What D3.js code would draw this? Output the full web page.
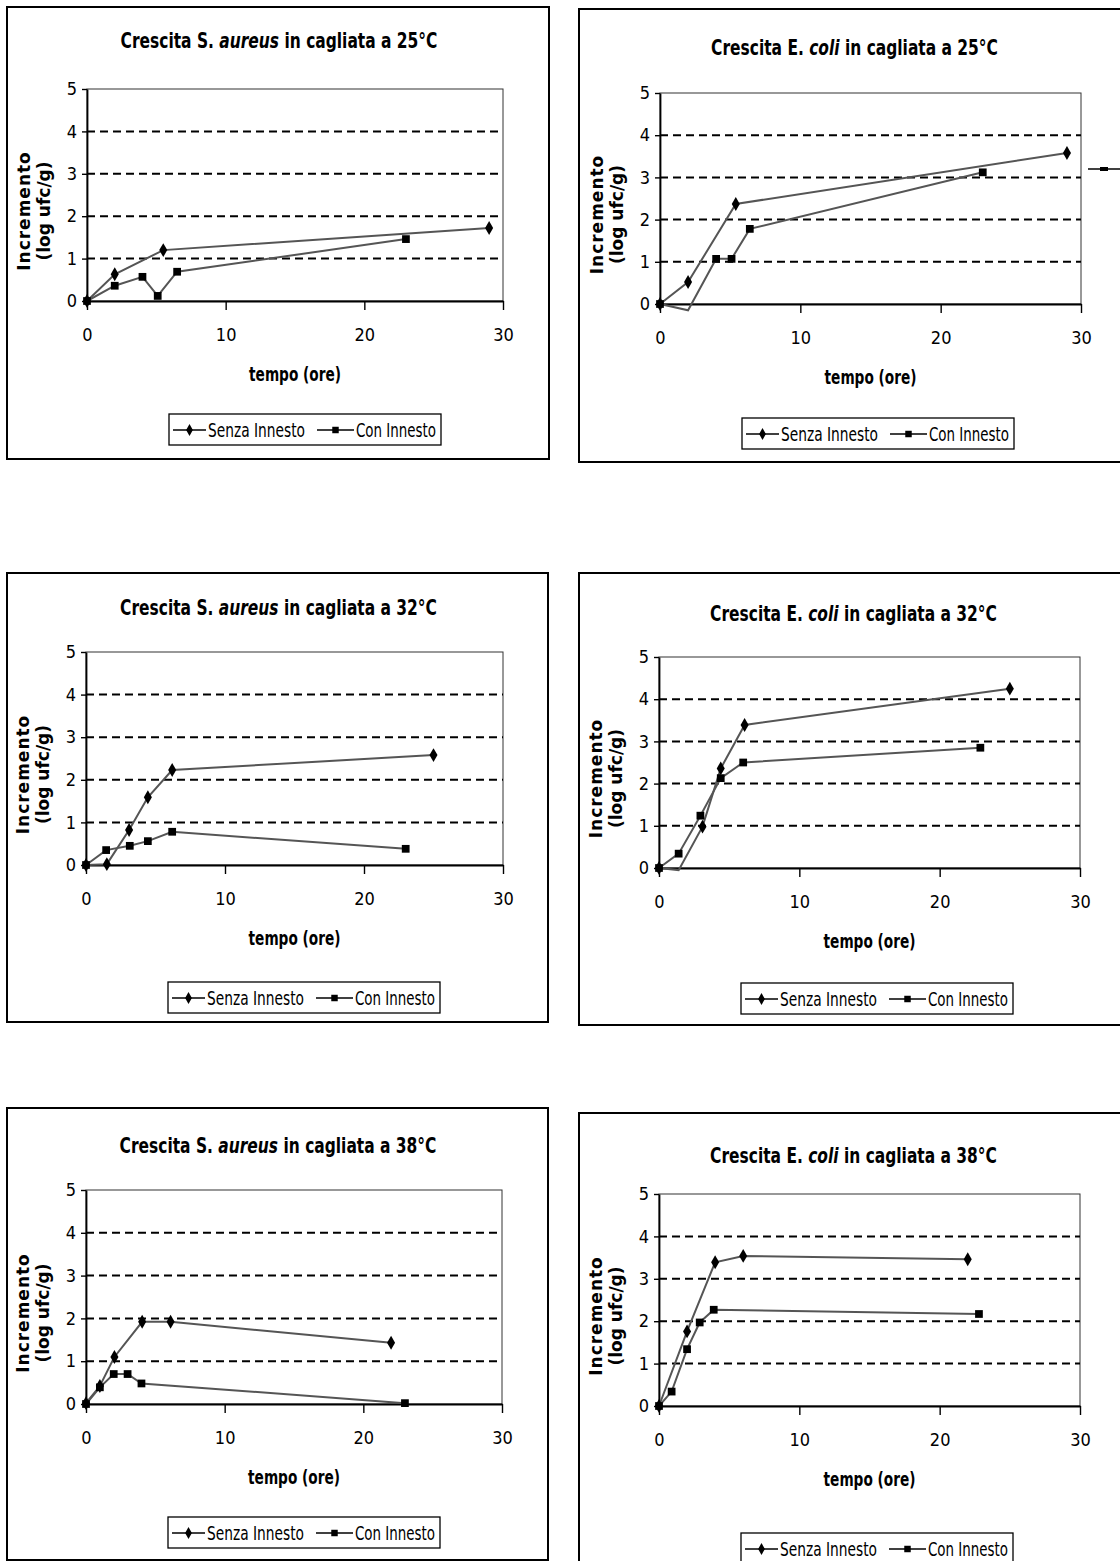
<!DOCTYPE html>
<html>
<head>
<meta charset="utf-8">
<script src="https://cdn.jsdelivr.net/npm/d3@7"></script>
<style>
  body { margin: 0; background: #fff; }
  svg { display: block; }
  .narrow { font-family: "DejaVu Sans Condensed", "Liberation Sans Narrow", sans-serif; }
  .wide { font-family: "DejaVu Sans", "Liberation Sans", sans-serif; }
</style>
</head>
<body>
<svg id="chart" width="1120" height="1561"></svg>
<script>
(function () {
  // assi comuni
  var tempoTicks = [0, 10, 20, 30];
  var incrementoTicks = [0, 1, 2, 3, 4, 5];
  var griglia = [1, 2, 3, 4];
  var serie = ["Senza Innesto", "Con Innesto"];

  // valori: ore e incremento (log ufc/g)
  var aureus25SenzaOre = [0, 2, 5.5, 29];
  var aureus25SenzaLog = [0, 0.63, 1.2, 1.72];
  var aureus25ConOre = [0, 2, 4, 5.1, 6.5, 23];
  var aureus25ConLog = [0, 0.36, 0.57, 0.12, 0.69, 1.46];

  var coli25SenzaOre = [0, 2, 5.4, 29];
  var coli25SenzaLog = [0, 0.52, 2.37, 3.58];
  var coli25ConOre = [0, 2, 4, 5.1, 6.4, 23];
  var coli25ConLog = [0, -0.15, 1.07, 1.07, 1.78, 3.12];

  var aureus32SenzaOre = [0, 1.5, 3.1, 4.45, 6.2, 25];
  var aureus32SenzaLog = [0, 0.02, 0.82, 1.59, 2.23, 2.58];
  var aureus32ConOre = [0, 1.45, 3.15, 4.45, 6.2, 23];
  var aureus32ConLog = [0, 0.35, 0.45, 0.56, 0.78, 0.38];

  var coli32SenzaOre = [0, 1.4, 3.1, 4.4, 6.1, 25];
  var coli32SenzaLog = [0, -0.05, 0.98, 2.36, 3.39, 4.25];
  var coli32ConOre = [0, 1.4, 2.95, 4.4, 6.0, 22.9];
  var coli32ConLog = [0, 0.34, 1.24, 2.13, 2.5, 2.85];

  var aureus38SenzaOre = [0, 1, 2.05, 4.05, 6.1, 22];
  var aureus38SenzaLog = [0.02, 0.42, 1.1, 1.92, 1.92, 1.43];
  var aureus38ConOre = [0, 1, 2, 3, 4, 23];
  var aureus38ConLog = [0, 0.39, 0.7, 0.7, 0.48, 0.02];

  var coli38SenzaOre = [0, 2, 4, 6, 22];
  var coli38SenzaLog = [0, 1.76, 3.39, 3.54, 3.46];
  var coli38ConOre = [0, 0.9, 2, 2.9, 3.9, 22.8];
  var coli38ConLog = [0, 0.34, 1.34, 1.97, 2.27, 2.17];

  var grafici = [
    { specie: "S.", nome: "aureus", temp: "25°C", senza: [aureus25SenzaOre, aureus25SenzaLog], con: [aureus25ConOre, aureus25ConLog] },
    { specie: "E.", nome: "coli", temp: "25°C", senza: [coli25SenzaOre, coli25SenzaLog], con: [coli25ConOre, coli25ConLog] },
    { specie: "S.", nome: "aureus", temp: "32°C", senza: [aureus32SenzaOre, aureus32SenzaLog], con: [aureus32ConOre, aureus32ConLog] },
    { specie: "E.", nome: "coli", temp: "32°C", senza: [coli32SenzaOre, coli32SenzaLog], con: [coli32ConOre, coli32ConLog] },
    { specie: "S.", nome: "aureus", temp: "38°C", senza: [aureus38SenzaOre, aureus38SenzaLog], con: [aureus38ConOre, aureus38ConLog] },
    { specie: "E.", nome: "coli", temp: "38°C", senza: [coli38SenzaOre, coli38SenzaLog], con: [coli38ConOre, coli38ConLog] }
  ];

  // posizione dei sei riquadri nella pagina
  var riquadri = [
    { frame: [7, 7, 549, 459], plot: [87, 89, 503, 301], titleY: 48, legendY: 414 },
    { frame: [579, 9, 1130, 462], plot: [660, 93, 1081, 304], titleY: 55, legendY: 418 },
    { frame: [7, 573, 548, 1022], plot: [86, 652, 503, 865], titleY: 615, legendY: 982 },
    { frame: [579, 573, 1130, 1025], plot: [659, 657, 1080, 868], titleY: 621, legendY: 983 },
    { frame: [7, 1108, 548, 1560], plot: [86, 1190, 502, 1404], titleY: 1153, legendY: 1517 },
    { frame: [579, 1113, 1130, 1580], plot: [659, 1194, 1080, 1406], titleY: 1163, legendY: 1533 }
  ];

  var svg = d3.select("#chart");

  svg
    .append("rect")
    .attr("width", 1120)
    .attr("height", 1561)
    .attr("fill", "#fff");

  function punti(coppia) {
    return coppia[0].map(function (t, i) {
      return { t: t, v: coppia[1][i] };
    });
  }

  function disegna(c, r) {
    var px0 = r.plot[0], py0 = r.plot[1], px1 = r.plot[2], py1 = r.plot[3];
    var cx = (px0 + px1) / 2;

    var x = d3.scaleLinear().domain([0, 30]).range([px0, px1]);
    var y = d3.scaleLinear().domain([0, 5]).range([py1, py0]);

    var g = svg.append("g");

    // cornice
    g.append("rect")
      .attr("x", r.frame[0])
      .attr("y", r.frame[1])
      .attr("width", r.frame[2] - r.frame[0])
      .attr("height", r.frame[3] - r.frame[1])
      .attr("fill", "none")
      .attr("stroke", "#000")
      .attr("stroke-width", 2);

    // titolo (testo alto e stretto come nell'originale)
    var title = g
      .append("text")
      .attr("class", "narrow")
      .attr("transform", "translate(" + (cx - 16) + "," + r.titleY + ")scale(0.8,1)")
      .attr("text-anchor", "middle")
      .attr("font-size", 21.5)
      .attr("font-weight", "bold");
    title.append("tspan").text("Crescita " + c.specie + " ");
    title.append("tspan").attr("font-style", "italic").text(c.nome);
    title.append("tspan").text(" in cagliata a " + c.temp);

    // area del grafico
    g.append("rect")
      .attr("x", px0)
      .attr("y", py0)
      .attr("width", px1 - px0)
      .attr("height", py1 - py0)
      .attr("fill", "none")
      .attr("stroke", "#333")
      .attr("stroke-width", 1);

    g.append("g")
      .selectAll("line")
      .data(griglia)
      .enter()
      .append("line")
      .attr("x1", px0)
      .attr("x2", px1)
      .attr("y1", function (d) { return y(d); })
      .attr("y2", function (d) { return y(d); })
      .attr("stroke", "#000")
      .attr("stroke-width", 2)
      .attr("stroke-dasharray", "8,5");

    var yAxis = g
      .append("g")
      .attr("transform", "translate(" + px0 + ",0)")
      .call(d3.axisLeft(y).tickValues(incrementoTicks).tickSize(5).tickSizeOuter(0).tickPadding(5).tickFormat(d3.format("d")));
    yAxis.select(".domain").attr("stroke-width", 1.8);
    yAxis.selectAll("line").attr("stroke-width", 1.4);
    yAxis.selectAll("text").attr("class", "narrow").attr("font-size", 18).attr("fill", "#000");

    var xAxis = g
      .append("g")
      .attr("transform", "translate(0," + py1 + ")")
      .call(d3.axisBottom(x).tickValues(tempoTicks).tickSize(9).tickSizeOuter(0).tickPadding(18));
    xAxis.select(".domain").attr("stroke-width", 1.8);
    xAxis.selectAll("line").attr("stroke-width", 1.4);
    xAxis.selectAll("text").attr("class", "narrow").attr("font-size", 18).attr("fill", "#000");

    // titoli degli assi
    g.append("text")
      .attr("class", "narrow")
      .attr("transform", "translate(" + cx + "," + (py1 + 80) + ")scale(0.8,1)")
      .attr("text-anchor", "middle")
      .attr("font-size", 19)
      .attr("font-weight", "bold")
      .text("tempo (ore)");

    var yt = g
      .append("g")
      .attr("transform", "translate(" + (px0 - 57) + "," + ((py0 + py1) / 2 + 16) + ")rotate(-90)");
    yt.append("text")
      .attr("class", "wide")
      .attr("text-anchor", "middle")
      .attr("font-size", 17)
      .attr("font-weight", "bold")
      .attr("letter-spacing", 1)
      .text("Incremento");
    yt.append("text")
      .attr("class", "wide")
      .attr("y", 20)
      .attr("text-anchor", "middle")
      .attr("font-size", 17)
      .attr("font-weight", "bold")
      .text("(log ufc/g)");

    // serie
    var line = d3
      .line()
      .x(function (d) { return x(d.t); })
      .y(function (d) { return y(d.v); });

    var dati = [
      { nome: serie[0], pts: punti(c.senza), sym: d3.symbol(d3.symbolDiamond, 56) },
      { nome: serie[1], pts: punti(c.con), sym: d3.symbol(d3.symbolSquare, 60) }
    ];

    dati.forEach(function (s) {
      g.append("path")
        .attr("d", line(s.pts))
        .attr("fill", "none")
        .attr("stroke", "#555")
        .attr("stroke-width", 2);

      g.append("g")
        .selectAll("path")
        .data(s.pts.filter(function (d) { return d.v >= 0; }))
        .enter()
        .append("path")
        .attr("d", s.sym)
        .attr("transform", function (d) {
          return "translate(" + x(d.t) + "," + y(d.v) + ")";
        })
        .attr("fill", "#000");
    });

    // legenda
    var L = px0 + 82, T = r.legendY;
    g.append("rect")
      .attr("x", L)
      .attr("y", T)
      .attr("width", 272)
      .attr("height", 31)
      .attr("fill", "#fff")
      .attr("stroke", "#000")
      .attr("stroke-width", 1.3);

    var voci = [
      { nome: serie[0], x1: 4, x2: 37, w: 97, sym: d3.symbol(d3.symbolDiamond, 40) },
      { nome: serie[1], x1: 148, x2: 185, w: 80, sym: d3.symbol(d3.symbolSquare, 42) }
    ];

    voci.forEach(function (v) {
      g.append("line")
        .attr("x1", L + v.x1)
        .attr("x2", L + v.x2)
        .attr("y1", T + 16)
        .attr("y2", T + 16)
        .attr("stroke", "#000")
        .attr("stroke-width", 1.5);
      g.append("path")
        .attr("d", v.sym())
        .attr("transform", "translate(" + (L + (v.x1 + v.x2) / 2) + "," + (T + 16) + ")")
        .attr("fill", "#000");
      g.append("text")
        .attr("class", "narrow")
        .attr("x", L + v.x2 + 2)
        .attr("y", T + 23)
        .attr("font-size", 19)
        .attr("textLength", v.w)
        .attr("lengthAdjust", "spacingAndGlyphs")
        .text(v.nome);
    });
  }

  grafici.forEach(function (c, i) {
    disegna(c, riquadri[i]);
  });

  // frammento di legenda tagliato sul bordo destro
  svg.append("line")
    .attr("x1", 1088)
    .attr("x2", 1120)
    .attr("y1", 169)
    .attr("y2", 169)
    .attr("stroke", "#000")
    .attr("stroke-width", 1.5);
  svg.append("rect")
    .attr("x", 1100)
    .attr("y", 167)
    .attr("width", 8)
    .attr("height", 4)
    .attr("fill", "#000");
})();
</script>
</body>
</html>
